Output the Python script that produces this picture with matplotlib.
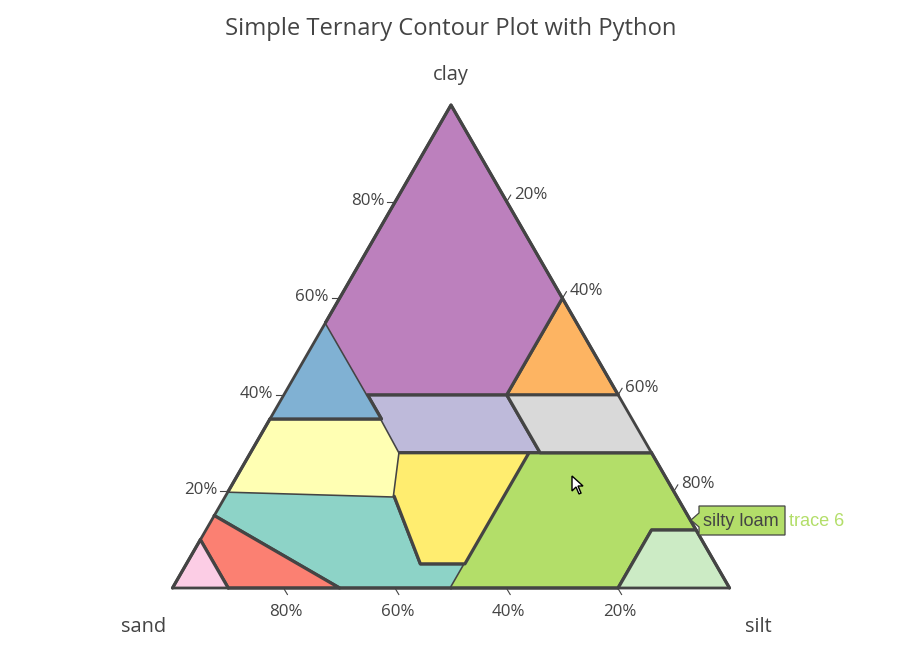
import matplotlib
matplotlib.use('Agg')
import matplotlib.pyplot as plt
from matplotlib.patches import Polygon

W, H = 919, 650
TEXT = '#444444'
LINE_W = 3.2 * 0.72   # plotly px -> pt at dpi 100
TICK_SIZE = 12.2

# Triangle corners in pixels
TRI_L, TRI_R, TRI_B, TRI_T = 172.5, 729.5, 588, 105

# ==========================================
# soil classes, vertices as percentages, in trace order
# the closing edge of each one gets no stroke
# ==========================================
names = ['sandy loam', 'sandy clay loam', 'clay loam', 'loamy sand', 'sandy clay',
         'silty clay', 'silty loam', 'sand', 'silty clay loam', 'clay', 'silt', 'loam']
colors = ['#8dd3c7', '#ffffb3', '#bebada', '#fb8072', '#80b1d3', '#fdb462',
          '#b3de69', '#fccde5', '#d9d9d9', '#bc80bd', '#ccebc5', '#ffed6f']

clay_vals = [
    [20, 19, 5, 5, 0, 0, 15],
    [19, 28, 35, 35, 20],
    [28, 28, 40, 40, 35],
    [15, 0, 0, 10],
    [55, 35, 35],
    [40, 60, 40],
    [28, 28, 12, 12, 0, 0],
    [0, 10, 0],
    [40, 40, 28, 28],
    [40, 40, 60, 100, 55],
    [0, 12, 12, 0],
    [28, 28, 5, 5, 19],
]
sand_vals = [
    [80, 50.7, 53, 45, 50, 70, 85],
    [50.7, 45.2, 45, 65, 80],
    [45.2, 20, 20, 45, 45],
    [85, 70, 90, 90],
    [45, 45, 65],
    [20, 0, 0],
    [22, 0, 0, 8, 20, 50],
    [100, 90, 90],
    [0, 20, 20, 0],
    [45, 20, 0, 0, 45],
    [20, 8, 0, 0],
    [45.2, 22, 45, 53, 50.7],
]
silt_vals = [
    [0, 30.3, 42, 50, 50, 30, 0],
    [30.3, 26.8, 20, 0, 0],
    [26.8, 52, 40, 15, 20],
    [0, 30, 10, 0],
    [0, 20, 0],
    [40, 40, 60],
    [50, 72, 88, 80, 80, 50],
    [0, 0, 10],
    [60, 40, 52, 72],
    [15, 40, 40, 0, 0],
    [80, 80, 88, 100],
    [26.8, 50, 50, 42, 30.3],
]

ticks = [20, 40, 60, 80]


def to_xy(clay, sand, silt):
    total = clay + sand + silt
    return (silt + clay / 2) / total, clay / total


def fx(px):
    return px / W


def fy(py):
    return 1 - py / H


fig = plt.figure(figsize=(W / 100, H / 100), dpi=100)
plt.rcParams['font.family'] = ['Open Sans', 'DejaVu Sans']

ax = fig.add_axes([fx(TRI_L), fy(TRI_B), (TRI_R - TRI_L) / W, (TRI_B - TRI_T) / H])
ax.set_xlim(0, 1)
ax.set_ylim(0, 1)
ax.axis('off')

UX = 1 / (TRI_R - TRI_L)
UY = 1 / (TRI_B - TRI_T)

for i in range(len(names)):
    pts = [to_xy(c, s, t) for c, s, t in zip(clay_vals[i], sand_vals[i], silt_vals[i])]
    ax.add_patch(Polygon(pts, closed=True, facecolor=colors[i], edgecolor='none',
                         clip_on=False, zorder=2 + i))
    ax.plot([p[0] for p in pts], [p[1] for p in pts], color=TEXT, linewidth=LINE_W,
            clip_on=False, zorder=2 + i, solid_joinstyle='round', solid_capstyle='round')

# axis lines sit above the traces
ax.add_patch(Polygon([to_xy(0, 100, 0), to_xy(0, 0, 100), to_xy(100, 0, 0)], closed=True,
                     facecolor='none', edgecolor=TEXT, linewidth=2.8 * 0.72, clip_on=False,
                     joinstyle='round', zorder=20))

# ticks and tick labels
for t in ticks:
    # clay, left side
    x, y = to_xy(t, 100 - t, 0)
    ax.plot([x - 8 * UX, x - 1 * UX], [y, y], color=TEXT, linewidth=0.8, clip_on=False)
    ax.annotate(f'{t}%', (x, y), xytext=(-11, 1), textcoords='offset pixels', ha='right',
                va='center', fontsize=TICK_SIZE, color=TEXT, annotation_clip=False)
    # silt, right side
    x, y = to_xy(100 - t, 0, t)
    ax.plot([x + 1 * UX, x + 4 * UX], [y + 1.5 * UY, y + 6.5 * UY], color=TEXT, linewidth=0.8,
            clip_on=False)
    ax.annotate(f'{t}%', (x, y), xytext=(7, 7), textcoords='offset pixels', ha='left',
                va='center', fontsize=TICK_SIZE, color=TEXT, annotation_clip=False)
    # sand, bottom
    x, y = to_xy(0, t, 100 - t)
    ax.plot([x + 0.5 * UX, x + 3.5 * UX], [y - 1.5 * UY, y - 6.5 * UY], color=TEXT, linewidth=0.8,
            clip_on=False)
    ax.annotate(f'{t}%', (x, y), xytext=(2, -24.5), textcoords='offset pixels', ha='center',
                va='center', fontsize=TICK_SIZE, color=TEXT, annotation_clip=False)

# titles
fig.text(fx(451), fy(29), 'Simple Ternary Contour Plot with Python', ha='center', va='center',
         fontsize=17.15, color=TEXT)
fig.text(fx(451), fy(75), 'clay', ha='center', va='center', fontsize=14.4, color=TEXT)
fig.text(fx(144), fy(627), 'sand', ha='center', va='center', fontsize=14.4, color=TEXT)
fig.text(fx(758), fy(627), 'silt', ha='center', va='center', fontsize=14.4, color=TEXT)

# hover label, pixel positions
hover = [(691, 520), (699, 513), (699, 506), (785, 506), (785, 535), (699, 535), (699, 527)]
fig.add_artist(Polygon([(fx(a), fy(b)) for a, b in hover], closed=True, transform=fig.transFigure,
                       facecolor=colors[6], edgecolor=TEXT, linewidth=0.9, zorder=30))
fig.text(fx(703), fy(521.5), names[6], ha='left', va='center', fontsize=13.1, color=TEXT,
         family='Liberation Sans', zorder=31)
fig.text(fx(789), fy(521.5), 'trace 6', ha='left', va='center', fontsize=13.1, color=colors[6],
         family='Liberation Sans', zorder=31)

# mouse cursor left in the screenshot
cursor = [(572, 476), (572, 491), (576, 487), (579, 494), (581, 493), (578, 486), (583, 486)]
fig.add_artist(Polygon([(fx(a), fy(b)) for a, b in cursor], closed=True, transform=fig.transFigure,
                       facecolor='white', edgecolor='black', linewidth=1.0, zorder=32))

fig.savefig('out.png', dpi=100)
